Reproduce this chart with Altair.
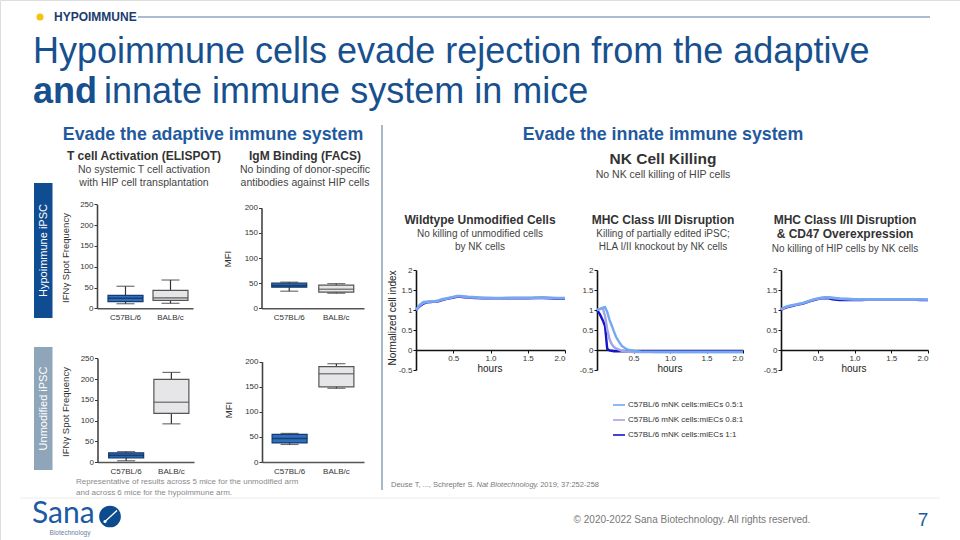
import altair as alt
import pandas as pd

FONT = "Liberation Sans"

# ---------------- Box-plot data (summary statistics) ----------------
groups = ["C57BL/6", "BALB/c"]

hip_elispot_min = [11, 12]
hip_elispot_q1 = [16, 19]
hip_elispot_med = [24, 25]
hip_elispot_q3 = [31, 43]
hip_elispot_max = [53, 68]

hip_mfi_min = [34, 30]
hip_mfi_q1 = [42, 32]
hip_mfi_med = [45, 38]
hip_mfi_q3 = [50, 46]
hip_mfi_max = [52, 49]

unm_elispot_min = [3, 92]
unm_elispot_q1 = [10, 117]
unm_elispot_med = [16, 144]
unm_elispot_q3 = [22, 199]
unm_elispot_max = [25, 216]

unm_mfi_min = [35, 147]
unm_mfi_q1 = [38, 150]
unm_mfi_med = [47, 176]
unm_mfi_q3 = [55, 190]
unm_mfi_max = [57, 196]

elispot_ticks = [0, 50, 100, 150, 200, 250]
mfi_ticks = [0, 50, 100, 150, 200]

# ---------------- NK killing curves (normalized cell index vs hours) ----------------
series = ["C57BL/6 mNK cells:miECs 0.5:1",
          "C57BL/6 mNK cells:miECs 0.8:1",
          "C57BL/6 mNK cells:miECs 1:1"]
series_colors = ["#72a9f0", "#a3a3ea", "#1414c8"]

hours_a = [0, 0.05, 0.1, 0.15, 0.2, 0.25, 0.3, 0.35, 0.4, 0.45, 0.5, 0.55, 0.6, 0.65,
           0.7, 0.8, 0.9, 1.0, 1.1, 1.2, 1.3, 1.4, 1.5, 1.6, 1.7, 1.8, 1.9, 2.0]

wt_05 = [1.00, 1.13, 1.20, 1.21, 1.22, 1.22, 1.24, 1.27, 1.29, 1.31, 1.33, 1.35, 1.35, 1.34,
         1.33, 1.32, 1.31, 1.30, 1.30, 1.30, 1.31, 1.31, 1.31, 1.31, 1.32, 1.31, 1.30, 1.30]
wt_08 = [1.00, 1.11, 1.18, 1.20, 1.21, 1.21, 1.23, 1.26, 1.28, 1.30, 1.32, 1.34, 1.34, 1.33,
         1.32, 1.31, 1.30, 1.30, 1.29, 1.30, 1.30, 1.30, 1.30, 1.30, 1.31, 1.30, 1.29, 1.29]
wt_1 = [1.00, 1.09, 1.16, 1.19, 1.20, 1.21, 1.22, 1.25, 1.27, 1.29, 1.31, 1.33, 1.33, 1.32,
        1.31, 1.30, 1.29, 1.29, 1.29, 1.29, 1.29, 1.29, 1.29, 1.30, 1.30, 1.29, 1.28, 1.28]

hip_05 = [1.02, 1.07, 1.10, 1.12, 1.14, 1.16, 1.18, 1.21, 1.24, 1.27, 1.29, 1.31, 1.32, 1.32,
          1.31, 1.29, 1.28, 1.27, 1.27, 1.27, 1.27, 1.27, 1.27, 1.27, 1.27, 1.27, 1.27, 1.26]
hip_08 = [1.01, 1.06, 1.09, 1.11, 1.13, 1.15, 1.17, 1.20, 1.23, 1.26, 1.28, 1.30, 1.31, 1.31,
          1.30, 1.28, 1.27, 1.26, 1.26, 1.26, 1.26, 1.26, 1.26, 1.26, 1.26, 1.26, 1.26, 1.26]
hip_1 = [1.00, 1.05, 1.08, 1.10, 1.12, 1.14, 1.16, 1.19, 1.22, 1.25, 1.27, 1.29, 1.30, 1.29,
         1.27, 1.25, 1.25, 1.25, 1.25, 1.26, 1.26, 1.26, 1.26, 1.26, 1.26, 1.26, 1.25, 1.25]

hours_b = [0, 0.04, 0.08, 0.11, 0.14, 0.17, 0.2, 0.23, 0.26, 0.3, 0.34, 0.38, 0.42, 0.5,
           0.6, 0.8, 1.0, 1.2, 1.4, 1.6, 1.8, 2.0]
mhc_05 = [1.00, 1.03, 1.06, 1.07, 0.95, 0.76, 0.62, 0.47, 0.33, 0.21, 0.10, 0.05, 0.01, -0.02,
          -0.04, -0.05, -0.05, -0.05, -0.05, -0.05, -0.05, -0.05]
mhc_08 = [1.00, 1.02, 1.04, 0.85, 0.52, 0.28, 0.15, 0.08, 0.04, 0.01, -0.02, -0.03, -0.04, -0.05,
          -0.05, -0.05, -0.05, -0.05, -0.05, -0.05, -0.05, -0.05]
mhc_1 = [1.00, 0.89, 0.74, 0.60, 0.03, -0.01, -0.02, -0.03, -0.03, -0.03, -0.03, -0.03, -0.03, -0.03,
         -0.03, -0.03, -0.03, -0.03, -0.03, -0.03, -0.03, -0.03]

line_yticks = [-0.5, 0, 0.5, 1, 1.5, 2]
line_xticks = [0.5, 1.0, 1.5, 2.0]

# ---------------- styling ----------------
TITLE_BLUE = "#17508f"
HEAD_BLUE = "#1f5a9e"
BOX_BLUE = "#2f6fc0"
BOX_BLUE_EDGE = "#173b6c"
BOX_GRAY = "#e6e6e8"
BOX_GRAY_EDGE = "#555555"
AX = "#333333"

one = pd.DataFrame({"k": [0]})


def txt(s, x, y, size, color="#333333", weight="normal", align="left",
        baseline="alphabetic", angle=None, style="normal", font=FONT):
    kw = dict(text=s, fontSize=size, color=color, fontWeight=weight, align=align,
              baseline=baseline, font=font, fontStyle=style)
    if angle is not None:
        kw["angle"] = angle
    return alt.Chart(one).mark_text(**kw).encode(x=alt.value(x), y=alt.value(y))


def rect(x, x2, y, y2, color):
    return alt.Chart(one).mark_rect(color=color).encode(
        x=alt.value(x), x2=alt.value(x2), y=alt.value(y), y2=alt.value(y2))


def hrule(x, x2, y, color, w=1.0):
    return alt.Chart(one).mark_rule(color=color, strokeWidth=w).encode(
        x=alt.value(x), x2=alt.value(x2), y=alt.value(y))


def vrule(x, y, y2, color, w=1.0):
    return alt.Chart(one).mark_rule(color=color, strokeWidth=w).encode(
        x=alt.value(x), y=alt.value(y), y2=alt.value(y2))


def box_panel(mins, q1s, meds, q3s, maxs, ydom, yticks, xr, yr, align, pad_outer):
    """Returns a flat list of layers; every layer carries the same explicit scales."""
    df = pd.DataFrame({"group": groups, "lo": mins, "q1": q1s, "med": meds,
                       "q3": q3s, "hi": maxs})

    def xs():
        return alt.Scale(domain=groups, range=xr, paddingInner=0, paddingOuter=pad_outer, align=align)

    def ys():
        return alt.Scale(domain=ydom, range=yr, nice=False, zero=True)

    xaxis = alt.Axis(orient="bottom", offset=yr[0] - 540, title=None, ticks=False,
                     labelPadding=5, labelFontSize=8, labelColor=AX, labelFont=FONT,
                     domainColor="#555555", domainWidth=1.6, labelAngle=0, grid=False)
    yaxis = alt.Axis(orient="left", offset=-xr[0], title=None, values=yticks, tickSize=3,
                     tickColor="#333333", tickWidth=1, labelFontSize=8, labelColor=AX,
                     labelFont=FONT, labelPadding=1, domainColor="#444444", domainWidth=1.6,
                     grid=False)
    base = alt.Chart(df)
    is_c57 = alt.datum.group == "C57BL/6"
    whisk = base.mark_rule(color="#333333", strokeWidth=1.2).encode(
        x=alt.X("group:N", scale=xs(), axis=xaxis),
        y=alt.Y("lo:Q", scale=ys(), axis=yaxis), y2=alt.Y2("hi"))
    box = base.mark_bar(size=35, strokeWidth=1.2).encode(
        x=alt.X("group:N", scale=xs(), axis=None),
        y=alt.Y("q1:Q", scale=ys(), axis=None), y2=alt.Y2("q3"),
        fill=alt.condition(is_c57, alt.value(BOX_BLUE), alt.value(BOX_GRAY)),
        stroke=alt.condition(is_c57, alt.value(BOX_BLUE_EDGE), alt.value(BOX_GRAY_EDGE)))
    med = base.mark_tick(size=35, thickness=1.6).encode(
        x=alt.X("group:N", scale=xs(), axis=None),
        y=alt.Y("med:Q", scale=ys(), axis=None),
        color=alt.condition(is_c57, alt.value("#10294f"), alt.value("#555555")))
    cap_lo = base.mark_tick(size=18, thickness=1.2, color="#333333").encode(
        x=alt.X("group:N", scale=xs(), axis=None),
        y=alt.Y("lo:Q", scale=ys(), axis=None))
    cap_hi = base.mark_tick(size=18, thickness=1.2, color="#333333").encode(
        x=alt.X("group:N", scale=xs(), axis=None),
        y=alt.Y("hi:Q", scale=ys(), axis=None))
    return [whisk, box, med, cap_lo, cap_hi]


LEGEND = alt.Legend(orient="none", legendX=612, legendY=398, title=None,
                    symbolType="stroke", symbolSize=144, symbolStrokeWidth=1.6,
                    labelFontSize=8, labelColor="#333333", labelFont=FONT,
                    rowPadding=4, labelOffset=2, padding=0, offset=0)


def line_panel(hours, v05, v08, v1, xr):
    df = pd.concat([
        pd.DataFrame({"hours": hours, "v": v1, "series": series[2]}),
        pd.DataFrame({"hours": hours, "v": v08, "series": series[1]}),
        pd.DataFrame({"hours": hours, "v": v05, "series": series[0]}),
    ], ignore_index=True)
    xs = alt.Scale(domain=[0, 2], range=xr, nice=False, zero=False)
    ys = alt.Scale(domain=[-0.5, 2], range=[370, 270], nice=False, zero=False)
    xaxis = alt.Axis(orient="bottom", offset=350 - 540, title=None, values=line_xticks,
                     format=".1f", tickSize=3, tickColor="#111111", labelFontSize=8,
                     labelColor=AX, labelFont=FONT, labelPadding=1, domainColor="#111111",
                     domainWidth=1.6, grid=False)
    yaxis = alt.Axis(orient="left", offset=-xr[0], title=None, values=line_yticks,
                     labelExpr="'' + datum.value", tickSize=3, tickColor="#111111",
                     labelFontSize=8, labelColor=AX, labelFont=FONT, labelPadding=1,
                     domainColor="#111111", domainWidth=1.6, grid=False)
    return alt.Chart(df).mark_line(strokeWidth=2.4).encode(
        x=alt.X("hours:Q", scale=xs, axis=xaxis),
        y=alt.Y("v:Q", scale=ys, axis=yaxis),
        color=alt.Color("series:N", scale=alt.Scale(domain=series, range=series_colors),
                        legend=LEGEND),
        order=alt.Order("hours:Q"),
    )


layers = []

# ---- header ----
layers.append(alt.Chart(one).mark_circle(size=50, color="#f2c40f", opacity=1).encode(
    x=alt.value(40), y=alt.value(17)))
layers.append(txt("HYPOIMMUNE", 54, 21.3, 12, color="#1b3c6e", weight="bold"))
layers.append(hrule(138, 930, 17, "#5877a3", 1))
layers.append(txt("Hypoimmune cells evade rejection from the adaptive", 33, 63, 36, color=TITLE_BLUE))
layers.append(txt("and", 33, 103, 36, color=TITLE_BLUE, weight="bold"))
layers.append(txt("innate immune system in mice", 104, 103, 36, color=TITLE_BLUE))

# ---- section headers ----
layers.append(txt("Evade the adaptive immune system", 213, 140, 17.8, color=HEAD_BLUE,
                  weight="bold", align="center"))
layers.append(txt("Evade the innate immune system", 663, 140, 17.8, color=HEAD_BLUE,
                  weight="bold", align="center"))
layers.append(vrule(382, 125, 490, "#8d9fba", 1.5))

# ---- adaptive panel headers ----
layers.append(txt("T cell Activation (ELISPOT)", 144, 160, 12, color="#333333", weight="bold", align="center"))
layers.append(txt("No systemic T cell activation", 144, 173, 10.5, color="#444444", align="center"))
layers.append(txt("with HIP cell transplantation", 144, 186, 10.5, color="#444444", align="center"))
layers.append(txt("IgM Binding (FACS)", 305, 160, 12, color="#333333", weight="bold", align="center"))
layers.append(txt("No binding of donor-specific", 305, 173, 10.5, color="#444444", align="center"))
layers.append(txt("antibodies against HIP cells", 305, 186, 10.5, color="#444444", align="center"))

# ---- row labels ----
layers.append(rect(34, 52.5, 183, 318, "#0f4c92"))
layers.append(txt("Hypoimmune iPSC", 43.5, 250.5, 11, color="white", align="center",
                  baseline="middle", angle=270))
layers.append(rect(34, 52.5, 347, 470, "#8fa5b9"))
layers.append(txt("Unmodified iPSC", 43.5, 408.5, 11, color="white", align="center",
                  baseline="middle", angle=270))

# ---- box plots ----
layers += box_panel(hip_elispot_min, hip_elispot_q1, hip_elispot_med, hip_elispot_q3,
                    hip_elispot_max, [0, 250], elispot_ticks, [97, 193], [308.3, 204.3], 1, 0.0667)
layers += box_panel(hip_mfi_min, hip_mfi_q1, hip_mfi_med, hip_mfi_q3, hip_mfi_max,
                    [0, 200], mfi_ticks, [261.5, 364], [308.3, 207.7], 0.5, 0.09)
layers += box_panel(unm_elispot_min, unm_elispot_q1, unm_elispot_med, unm_elispot_q3,
                    unm_elispot_max, [0, 250], elispot_ticks, [97.5, 194], [462, 358.3], 1, 0.0667)
layers += box_panel(unm_mfi_min, unm_mfi_q1, unm_mfi_med, unm_mfi_q3, unm_mfi_max,
                    [0, 200], mfi_ticks, [262, 364], [462, 361.7], 0.5, 0.09)

layers.append(txt("IFNγ Spot Frequency", 66, 258, 9.5, color="#333333", align="center",
                  baseline="middle", angle=270))
layers.append(txt("IFNγ Spot Frequency", 66, 412, 9.5, color="#333333", align="center",
                  baseline="middle", angle=270))
layers.append(txt("MFI", 228, 259, 9.5, color="#333333", align="center", baseline="middle", angle=270))
layers.append(txt("MFI", 229, 410, 9.5, color="#333333", align="center", baseline="middle", angle=270))

layers.append(txt("Representative of results across 5 mice for the unmodified arm", 76, 483.5,
                  8, color="#8a8a8a"))
layers.append(txt("and across 6 mice for the hypoimmune arm.", 76, 495, 8, color="#8a8a8a"))

# ---- innate panel headers ----
layers.append(txt("NK Cell Killing", 663, 164, 15.5, color="#333333", weight="bold", align="center"))
layers.append(txt("No NK cell killing of HIP cells", 663, 178, 10.5, color="#444444", align="center"))

layers.append(txt("Wildtype Unmodified Cells", 480, 223.5, 12, color="#333333", weight="bold", align="center"))
layers.append(txt("No killing of unmodified cells", 480, 237, 10, color="#444444", align="center"))
layers.append(txt("by NK cells", 480, 250, 10, color="#444444", align="center"))

layers.append(txt("MHC Class I/II Disruption", 663, 223.5, 12, color="#333333", weight="bold", align="center"))
layers.append(txt("Killing of partially edited iPSC;", 663, 237, 10, color="#444444", align="center"))
layers.append(txt("HLA I/II knockout by NK cells", 663, 250, 10, color="#444444", align="center"))

layers.append(txt("MHC Class I/II Disruption", 845, 223.5, 12, color="#333333", weight="bold", align="center"))
layers.append(txt("& CD47 Overexpression", 845, 238, 12, color="#333333", weight="bold", align="center"))
layers.append(txt("No killing of HIP cells by NK cells", 845, 252, 10, color="#444444", align="center"))

# ---- NK killing line charts ----
layers.append(line_panel(hours_a, wt_05, wt_08, wt_1, [416, 565]))
layers.append(line_panel(hours_b, mhc_05, mhc_08, mhc_1, [597, 743]))
layers.append(line_panel(hours_a, hip_05, hip_08, hip_1, [781, 928]))

layers.append(txt("Normalized cell index", 393, 318, 10, color="#222222", align="center",
                  baseline="middle", angle=270))
for cx in (490, 670, 854):
    layers.append(txt("hours", cx, 372, 10, color="#222222", align="center"))

# ---- citation ----
layers.append(txt("Deuse T, ..., Schrepfer S.", 391, 487, 7.5, color="#7a7a7a"))
layers.append(txt("Nat Biotechnology", 476.5, 487, 7.5, color="#7a7a7a", style="italic"))
layers.append(txt(". 2019; 37:252-258", 536, 487, 7.5, color="#7a7a7a"))

# ---- footer ----
layers.append(hrule(20, 940, 498, "#ececec", 1))
layers.append(txt("Sana", 32, 523, 30, color="#1c5aa6", font="Lato"))
layers.append(txt("Biotechnology", 70, 535, 6.5, color="#6b7fa0", align="center"))
layers.append(alt.Chart(one).mark_circle(size=470, color="#0d4a8e", opacity=1).encode(
    x=alt.value(110), y=alt.value(516.5)))
layers.append(alt.Chart(one).mark_rule(color="white", strokeWidth=1.3).encode(
    x=alt.value(105), x2=alt.value(117), y=alt.value(521.5), y2=alt.value(510.5)))
layers.append(alt.Chart(one).mark_circle(size=10, color="white", opacity=1).encode(
    x=alt.value(105), y=alt.value(521.5)))
layers.append(txt("© 2020-2022 Sana Biotechnology. All rights reserved.", 692, 522.5, 10,
                  color="#777777", align="center"))
layers.append(txt("7", 923, 526, 19, color="#1f5a9e", align="center"))

chart = alt.layer(*layers).resolve_scale(
    x="independent", y="independent"
).resolve_axis(
    x="independent", y="independent"
).properties(
    width=960, height=540, padding=0, autosize=alt.AutoSizeParams(type="none"),
    background="white"
).configure_view(strokeWidth=0).configure(font=FONT)

chart.save("out.html", embed_options={"renderer": "svg", "actions": False})
